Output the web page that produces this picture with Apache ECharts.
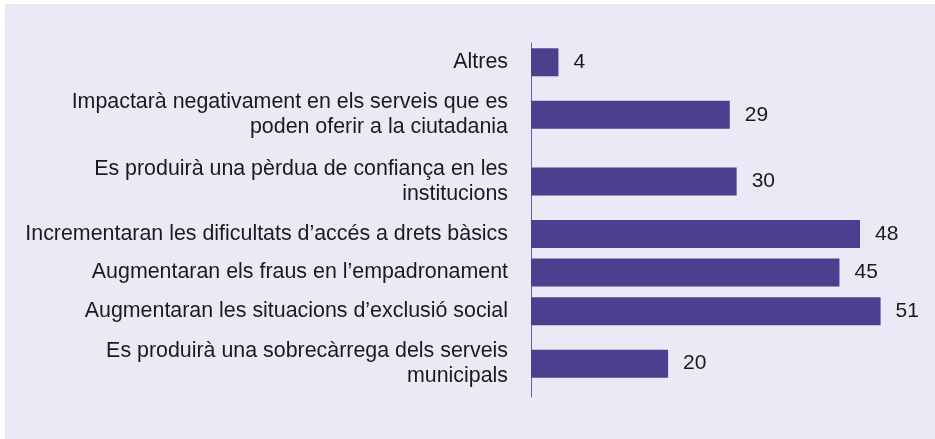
<!DOCTYPE html>
<html>
<head>
<meta charset="utf-8">
<script src="https://cdn.jsdelivr.net/npm/echarts@6/dist/echarts.min.js"></script>
<style>
html, body { margin: 0; padding: 0; background: #fff; }
#chart { width: 935px; height: 439px; }
</style>
</head>
<body>
<div id="chart"></div>
<script>
var categories = [
    'Altres',
    'Impactarà negativament en els serveis que es\npoden oferir a la ciutadania',
    'Es produirà una pèrdua de confiança en les\ninstitucions',
    'Incrementaran les dificultats d\u2019accés a drets bàsics',
    'Augmentaran els fraus en l\u2019empadronament',
    'Augmentaran les situacions d\u2019exclusió social',
    'Es produirà una sobrecàrrega dels serveis\nmunicipals'
];
var values = [4, 29, 30, 48, 45, 51, 20];

// one-line rows get a shorter slot than two-line rows
var slotOne = 11, slotTwo = 19;
var rows = [], rowValues = [], rowLabels = {};
categories.forEach(function (name, i) {
    var n = name.indexOf('\n') >= 0 ? slotTwo : slotOne;
    var mid = Math.floor(n / 2);
    for (var k = 0; k < n; k++) {
        var key = i + '_' + k;
        rows.push(key);
        if (k === mid) {
            rowLabels[key] = name;
            rowValues.push(values[i]);
        } else {
            rowValues.push('-');
        }
    }
});

var myChart = echarts.init(document.getElementById('chart'));
var option = {
    backgroundColor: '#ffffff',
    animation: false,
    textStyle: { fontFamily: 'Liberation Sans, Arial, sans-serif' },
    graphic: [{
        type: 'rect',
        z: -10,
        shape: { x: 5, y: 4, width: 930, height: 435 },
        style: { fill: '#ece9f6' }
    }],
    grid: {
        left: 531,
        top: 43,
        width: 377,
        height: 354
    },
    xAxis: {
        type: 'value',
        min: 0,
        max: 55,
        show: false
    },
    yAxis: {
        type: 'category',
        inverse: true,
        data: rows,
        axisLine: { lineStyle: { color: '#6a5fa6', width: 1 } },
        axisTick: { show: false },
        axisLabel: {
            interval: 0,
            margin: 23,
            fontSize: 21.4,
            lineHeight: 25,
            color: '#1a1a1a',
            formatter: function (v) { return rowLabels[v] || ''; }
        }
    },
    series: [{
        type: 'bar',
        data: rowValues,
        barWidth: 28,
        itemStyle: { color: '#4e3f8e' },
        label: {
            show: true,
            position: 'right',
            distance: 15,
            fontSize: 21,
            color: '#1a1a1a'
        }
    }]
};
myChart.setOption(option);
</script>
</body>
</html>
